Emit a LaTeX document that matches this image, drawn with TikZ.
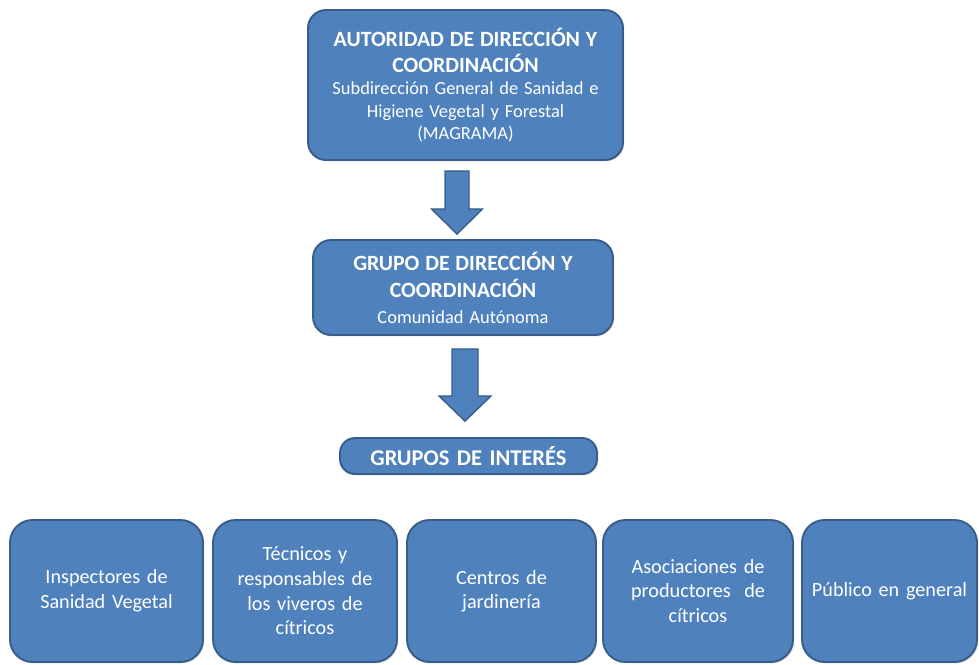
\documentclass[tikz,border=0pt]{standalone}
\usepackage{fontspec}
\setmainfont{Carlito}
\usepackage{tikz}
\usetikzlibrary{positioning,calc,shadows}

\definecolor{boxblue}{HTML}{4F81BD}
\definecolor{edgeblue}{HTML}{385D8A}

\begin{document}
\begin{tikzpicture}[x=0.02cm,y=-0.02cm,
	box/.style={rectangle,rounded corners=0.36cm,draw=edgeblue,line width=1.1pt,fill=boxblue,
		text=white,align=center,inner sep=2pt,text width=3.4cm,
		drop shadow={opacity=0.25,shadow xshift=0.8pt,shadow yshift=-0.8pt}},
	groupbox/.style={box,minimum height=2.84cm,rounded corners=0.45cm,font=\fontsize{11.5}{14}\selectfont},
	blockarrow/.style={fill=boxblue,draw=edgeblue,line width=0.8pt,line join=miter}]

	\useasboundingbox (0,0) rectangle (979,664);

	\node [box,text width=5.9cm,minimum width=6.30cm,minimum height=3.00cm] (top) at (465.5,85) {%
		{\fontsize{12.4}{15}\selectfont\bfseries AUTORIDAD DE DIRECCIÓN Y\\ COORDINACIÓN\par}
		{\fontsize{10.5}{12.6}\selectfont Subdirección General de Sanidad e\\ Higiene Vegetal y Forestal\\ (MAGRAMA)\par}};
	\node [box,text width=5.6cm,minimum width=6.00cm,minimum height=1.90cm] (mid) at (463,287.5) {%
		{\fontsize{12.4}{15.5}\selectfont\bfseries GRUPO DE DIRECCIÓN Y\\ COORDINACIÓN\par}\vspace{2pt}
		{\fontsize{10.5}{12.6}\selectfont Comunidad Autónoma\par}};
	\node [box,text width=4.8cm,minimum width=5.14cm,minimum height=0.72cm,rounded corners=0.3cm,
		font=\fontsize{12.8}{15}\selectfont\bfseries] (groups) at (468.5,456) {GRUPOS DE INTERÉS};

	\node [groupbox,minimum width=3.86cm] (inspect) at (106.5,591) {Inspectores de\\ Sanidad Vegetal};
	\node [groupbox,minimum width=3.68cm] (nursery) at (305,591) {Técnicos y\\ responsables de\\ los viveros de\\ cítricos};
	\node [groupbox,minimum width=3.78cm] (garden) at (501.5,591) {Centros de\\ jardinería};
	\node [groupbox,minimum width=3.80cm] (growers) at (698,591) {Asociaciones de\\ productores~ de\\ cítricos};
	\node [groupbox,minimum width=3.50cm,text width=3.3cm] (public) at (889.5,591) {Público en general};

	% block arrows between the levels
	\path (top.south) ++(-8.5,0) coordinate (a1);
	\draw [blockarrow] ($(a1)+(-12,10)$) -- ($(a1)+(12,10)$) -- ($(a1)+(12,48)$) -- ($(a1)+(25.5,48)$)
		-- ($(mid.north)+(-6,-5)$) -- ($(a1)+(-25.5,48)$) -- ($(a1)+(-12,48)$) -- cycle;
	\path (mid.south) ++(2,0) coordinate (a2);
	\draw [blockarrow] ($(a2)+(-13,13)$) -- ($(a2)+(13,13)$) -- ($(a2)+(13,60)$) -- ($(a2)+(26,60)$)
		-- ($(groups.north)+(-3.5,-16)$) -- ($(a2)+(-26,60)$) -- ($(a2)+(-13,60)$) -- cycle;

\end{tikzpicture}
\end{document}
